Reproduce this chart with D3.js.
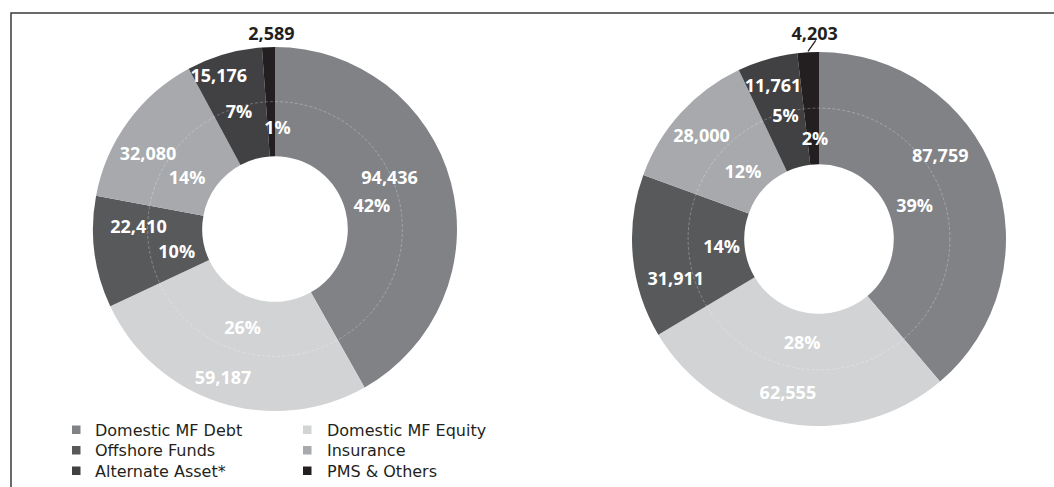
<!DOCTYPE html>
<html><head><meta charset="utf-8">
<script src="https://cdn.jsdelivr.net/npm/d3@7"></script>
<style>body{margin:0;background:#fff;}svg{display:block;font-family:"Open Sans",sans-serif;}</style>
</head><body>
<svg id="chart" width="1054" height="487"></svg>
<script>
// ---- data ----
const categories = ["Domestic MF Debt","Domestic MF Equity","Offshore Funds","Insurance","Alternate Asset*","PMS & Others"];
const leftValues = [94436, 59187, 22410, 32080, 15176, 2589];
const leftPct = ["42%","26%","10%","14%","7%","1%"];
const rightValues = [87759, 62555, 31911, 28000, 11761, 4203];
const rightPct = ["39%","28%","14%","12%","5%","2%"];
const legendOrder = [0,1,2,3,4,5];

// ---- styles / layout ----
const colors = ["#808285","#d1d3d4","#58595b","#a7a9ac","#414042","#231f20"];
const fmt = d3.format(",");
const svg = d3.select("#chart");

// frame
svg.append("path").attr("d","M11,487 V13 H1054").attr("fill","none").attr("stroke","#3a3a3a").attr("stroke-width",1.5);

// label nudges [dx,dy] relative to centroid (outer value label, inner pct label)
const leftNudge = {
  outer: [[-35,-12],[-5,1],[17,-22],[-2,16],[-13,-5],[2,-41]],
  inner: [[0,2],[-2,3],[1,10],[-7,8],[-8,-21],[6,-1]]
};
const rightNudge = {
  outer: [[-28,-29],[-5,-3],[15,25],[0,3],[-2,-1],[5,-47]],
  inner: [[-1,2],[0,2],[5,-2],[0,2],[-5,-25],[2,2]]
};

function donut(cx, cy, R, values, pcts, nudge, leader){
  const g = svg.append("g").attr("transform",`translate(${cx},${cy})`);
  const pie = d3.pie().sort(null).value(d=>d);
  const arcs = pie(values);
  const arc = d3.arc().innerRadius(R*0.4).outerRadius(R);
  g.selectAll("path.slice").data(arcs).join("path").attr("class","slice")
    .attr("d",arc).attr("fill",(d,i)=>colors[i]);
  g.append("circle").attr("r",R*0.70).attr("fill","none")
    .attr("stroke","rgba(255,255,255,0.35)").attr("stroke-width",0.8).attr("stroke-dasharray","3,2");
  const outerArc = d3.arc().innerRadius(R*0.85).outerRadius(R*0.85);
  const innerArc = d3.arc().innerRadius(R*0.55).outerRadius(R*0.55);
  g.selectAll("text.val").data(arcs).join("text").attr("class","val")
    .attr("x",(d,i)=>outerArc.centroid(d)[0]+nudge.outer[i][0])
    .attr("y",(d,i)=>outerArc.centroid(d)[1]+nudge.outer[i][1])
    .attr("dy","0.36em").attr("text-anchor","middle")
    .attr("font-size",18).attr("font-weight",700)
    .attr("fill",(d,i)=>i===5?"#231f20":"#ffffff")
    .text(d=>fmt(d.value));
  g.selectAll("text.pct").data(arcs).join("text").attr("class","pct")
    .attr("x",(d,i)=>innerArc.centroid(d)[0]+nudge.inner[i][0])
    .attr("y",(d,i)=>innerArc.centroid(d)[1]+nudge.inner[i][1])
    .attr("dy","0.36em").attr("text-anchor","middle")
    .attr("font-size",18).attr("font-weight",700).attr("fill","#ffffff")
    .text((d,i)=>pcts[i]);
  if(leader){
    const d = arcs[5];
    const c = outerArc.centroid(d);
    const tx = c[0]+nudge.outer[5][0], ty = c[1]+nudge.outer[5][1];
    const a = (d.startAngle+d.endAngle)/2;
    const ex = Math.sin(a)*(R+1), ey = -Math.cos(a)*(R+1);
    g.append("line").attr("x1",tx+1).attr("y1",ty+7).attr("x2",ex).attr("y2",ey)
      .attr("stroke","#231f20").attr("stroke-width",1.3);
  }
}

donut(275, 229, 182, leftValues, leftPct, leftNudge, false);
donut(819, 239, 187, rightValues, rightPct, rightNudge, true);

// legend
const lg = svg.append("g").attr("font-family","'DejaVu Sans',sans-serif");
const colX = [[72,95],[303,327]];
const rowY = [430,450.5,471];
const legendPos = [[0,0],[1,0],[0,1],[1,1],[0,2],[1,2]];
legendOrder.forEach((ci,k)=>{
  const [c,r] = legendPos[k];
  lg.append("rect").attr("x",colX[c][0]).attr("y",rowY[r]-4.5).attr("width",8.5).attr("height",8.5).attr("fill",colors[ci]);
  lg.append("text").attr("x",colX[c][1]).attr("y",rowY[r]).attr("dy","0.36em")
    .attr("font-size",16).attr("fill","#231f20").text(categories[ci]);
});
</script>
</body></html>
